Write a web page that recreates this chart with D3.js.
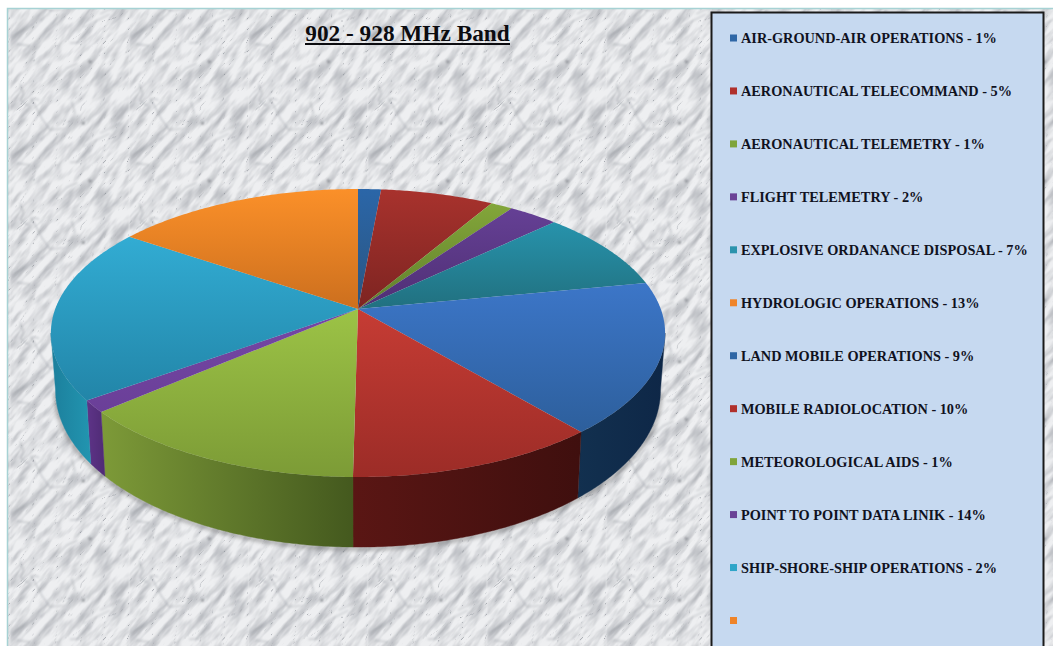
<!DOCTYPE html>
<html><head><meta charset="utf-8">
<style>html,body{margin:0;padding:0;background:#fff;overflow:hidden}svg{display:block}</style>
<script src="https://cdn.jsdelivr.net/npm/d3@7"></script>
</head><body><div id="chart"></div>
<script>
// Slice shares (percent of the circle)
const sliceNames = ["Air-ground-air","Aeronautical telecommand","Aeronautical telemetry","Flight telemetry","Explosive ordnance disposal","Land mobile","Mobile radiolocation","Meteorological aids","Point to point","Ship-shore-ship","Hydrologic"];
const sliceValues = [1.42,7.0,1.36,3.06,9.08,16.97,11.33,13.42,1.33,19.56,15.47];
const sliceTop    = ["#2b66a8","#a8322d","#83a63a","#654095","#2793ac","#3c76c8","#c63c34","#9cc346","#7547a5","#32acd3","#fb9029"];
const sliceBottom = ["#2a5580","#7d2421","#607f2c","#4f2f74","#21707f","#2d5f9c","#9c2c27","#7c9b36","#6a3f98","#2285a8","#cc6f1e"];
const wallLeft    = ["#1b3f66","#5a1614","#5f7d2a","#4f2b75","#1b84a0","#12304f","#5a1614","#7d9a38","#5e3488","#1c7f9c","#b5651c"];
const wallRight   = ["#1b3f66","#5a1614","#5f7d2a","#4f2b75","#1b84a0","#0e2747","#3f0f0e","#44591e","#4f2b75","#2295b0","#b5651c"];
// Legend
const legendLabels = ["AIR-GROUND-AIR OPERATIONS - 1%","AERONAUTICAL TELECOMMAND - 5%","AERONAUTICAL TELEMETRY - 1%","FLIGHT TELEMETRY - 2%","EXPLOSIVE ORDANANCE DISPOSAL - 7%","HYDROLOGIC OPERATIONS - 13%","LAND MOBILE OPERATIONS - 9%","MOBILE RADIOLOCATION - 10%","METEOROLOGICAL AIDS - 1%","POINT TO POINT DATA LINIK - 14%","SHIP-SHORE-SHIP OPERATIONS - 2%",""];
const legendColors = ["#2f67a6","#b0302c","#7fa43a","#6a4296","#2b93ad","#ef8429","#2f67a6","#b0302c","#7fa43a","#6a4296","#2fa5c8","#ef8429"];
const titleText = "902 - 928 MHz Band";
// Marble texture veins, one repeat tile (decoration only)
const veinsDark = [
 [[150,390],[125,355],[105,315],[92,295]],[[150,390],[200,385],[225,340],[215,305]],
 [[60,300],[85,318],[100,295],[118,300]],[[60,250],[70,280],[62,300]],
 [[30,470],[65,450],[100,430]],[[250,440],[290,420],[330,400]],[[300,400],[330,385],[360,368]],
 [[175,230],[200,205],[232,190]],[[50,133],[90,137]],[[210,130],[240,127]],[[160,380],[145,400],[120,420]]
];
const veinDots = [[270,185],[250,370]];

const W = 1053, H = 646;
const svg = d3.select("#chart").append("svg").attr("width",W).attr("height",H).attr("viewBox",`0 0 ${W} ${H}`);
const defs = svg.append("defs");

// ---- marble: noise tile sheared so its streaks rise to the right, plus a tile of darker cracks
const tw = 119.25;
const blur = defs.append("filter").attr("id","veinBlur").attr("x","-5%").attr("y","-5%").attr("width","110%").attr("height","110%");
blur.append("feGaussianBlur").attr("stdDeviation",0.8);
const noiseLayer = (id,type,fx,fy,oct,seed,matrix,sd)=>{
  const f = defs.append("filter").attr("id",id).attr("x",0).attr("y",0).attr("width","100%").attr("height","100%").attr("color-interpolation-filters","sRGB");
  f.append("feTurbulence").attr("type",type).attr("baseFrequency",(fx/tw)+" "+(fy/tw)).attr("numOctaves",oct).attr("seed",seed).attr("stitchTiles","stitch");
  f.append("feColorMatrix").attr("type","matrix").attr("values",matrix);
  f.append("feGaussianBlur").attr("stdDeviation",sd);
};
noiseLayer("cracks","turbulence",5,11,3,11,"0 0 0 0 0.50  0 0 0 0 0.52  0 0 0 0 0.55  -9 0 0 0 0.62",0.5);
noiseLayer("patches","fractalNoise",7,10,3,5,"0 0 0 0 0.72  0 0 0 0 0.73  0 0 0 0 0.75  2.2 0 0 0 -0.85",0.7);
const pat = defs.append("pattern").attr("id","marble").attr("patternUnits","userSpaceOnUse").attr("width",tw).attr("height",tw).attr("patternTransform","translate(10,40) skewY(-45)");
pat.append("rect").attr("width",tw).attr("height",tw).attr("fill","#eeeff1");
pat.append("rect").attr("width",tw).attr("height",tw).attr("filter","url(#patches)");
pat.append("rect").attr("width",tw).attr("height",tw).attr("filter","url(#cracks)");
const pat2 = defs.append("pattern").attr("id","marbleCracks").attr("patternUnits","userSpaceOnUse").attr("x",10).attr("y",40).attr("width",tw).attr("height",tw);
const tile = pat2.append("g").attr("filter","url(#veinBlur)");
const vLine = d3.line().x(d=>d[0]/3-10).y(d=>d[1]/3-40);
[-1,0,1].forEach(ox=>[-1,0,1].forEach(oy=>{
  const g = tile.append("g").attr("transform",`translate(${ox*tw},${oy*tw})`);
  g.selectAll("path").data(veinsDark).join("path").attr("d",vLine).attr("fill","none").attr("stroke","#8b8f96").attr("stroke-width",1).attr("opacity",.6);
  g.selectAll("circle").data(veinDots).join("circle").attr("cx",d=>d[0]/3-10).attr("cy",d=>d[1]/3-40).attr("r",1.3).attr("fill","#6c7077");
}));

// ---- page frame
svg.append("rect").attr("x",7.5).attr("y",8.5).attr("width",W).attr("height",H).attr("fill","url(#marble)").attr("stroke","#a6d2d4").attr("stroke-width",1.5);
svg.append("rect").attr("x",8.5).attr("y",9.5).attr("width",W).attr("height",H).attr("fill","url(#marbleCracks)");

// ---- projected pie
const cx = 358, cy = 309, R = 302.8, A = 140, K = 1/6;
const xScale = d3.scaleLinear().domain([0,1]).range([cx,cx+R]);
const yScale = d3.scaleLinear().domain([0,1]).range([cy,cy+A]);
// the lower rim of the disc: slightly narrower, and deeper toward the viewer
const xLow = d3.scaleLinear().domain([0,1]).range([cx,cx+R*0.985]);
const yLow = d3.scaleLinear().domain([0,1]).range([cy+55,cy+55+A*1.09]);
const plane = t => { const u = Math.sin(t), v = -Math.cos(t), w = 1 - K*v; return [u/w, v/w]; };
const rim = t => { const p = plane(t); return [xScale(p[0]), yScale(p[1])]; };
const rimLow = t => { const p = plane(t); return [xLow(p[0]), yLow(p[1])]; };
const samples = (a,b) => {
  const n = Math.max(2,Math.ceil((b-a)/0.01));
  return d3.range(n+1).map(i=>a+(b-a)*i/n);
};
const arcs = d3.pie().sort(null).value(d=>d)(sliceValues);
const path = d3.line();

arcs.forEach((d,i)=>{
  const t = defs.append("linearGradient").attr("id","top"+i).attr("x1",0).attr("y1",0).attr("x2",0).attr("y2",1);
  t.append("stop").attr("offset",0).attr("stop-color",sliceTop[i]);
  t.append("stop").attr("offset",1).attr("stop-color",sliceBottom[i]);
  const s = defs.append("linearGradient").attr("id","wall"+i).attr("x1",0).attr("y1",0).attr("x2",1).attr("y2",0);
  s.append("stop").attr("offset",0).attr("stop-color",wallLeft[i]);
  s.append("stop").attr("offset",1).attr("stop-color",wallRight[i]);
});
const shadow = defs.append("filter").attr("id","soft").attr("x","-5%").attr("y","-5%").attr("width","110%").attr("height","112%");
shadow.append("feGaussianBlur").attr("stdDeviation",2);

const lo = Math.acos(-K), hi = 2*Math.PI-lo;
// shadow under the near rim
svg.append("path").attr("d",path(samples(lo,hi).map(rimLow))).attr("fill","none").attr("stroke","#4a4a4a").attr("stroke-width",3).attr("opacity",.55).attr("transform","translate(0,1.5)").attr("filter","url(#soft)");

const pie = svg.append("g");
// walls: only the near side of the rim can be seen
pie.selectAll("path.wall").data(arcs.filter(d=>d.endAngle>lo && d.startAngle<hi)).join("path").attr("class","wall")
  .attr("fill",d=>`url(#wall${d.index})`)
  .attr("stroke",d=>`url(#wall${d.index})`).attr("stroke-width",0.4)
  .attr("d",d=>{
    const ts = samples(Math.max(d.startAngle,lo),Math.min(d.endAngle,hi));
    return path(ts.map(rim).concat(ts.slice().reverse().map(rimLow)))+"Z";
  });
// top faces
pie.selectAll("path.top").data(arcs).join("path").attr("class","top")
  .attr("fill",d=>`url(#top${d.index})`)
  .attr("d",d=>path([[xScale(0),yScale(0)]].concat(samples(d.startAngle,d.endAngle).map(rim)))+"Z");

// ---- title
svg.append("text").attr("x",407.5).attr("y",40.5).attr("text-anchor","middle")
  .attr("font-family","'Liberation Serif',serif").attr("font-weight",700).attr("font-size",23.3).attr("fill","#0c0c10").text(titleText);
svg.append("line").attr("x1",305).attr("x2",510).attr("y1",44).attr("y2",44).attr("stroke","#0c0c10").attr("stroke-width",2);

// ---- legend
svg.append("rect").attr("x",711.5).attr("y",12.5).attr("width",332).attr("height",640).attr("fill","#c6d9f0").attr("stroke","#1a1a1a").attr("stroke-width",2);
const rowY = d3.scalePoint().domain(d3.range(legendLabels.length)).range([38,620.5]);
const rows = svg.append("g").selectAll("g").data(legendLabels).join("g").attr("transform",(d,i)=>`translate(730,${rowY(i)})`);
rows.append("rect").attr("x",0).attr("y",-3.5).attr("width",7).attr("height",7).attr("fill",(d,i)=>legendColors[i]);
rows.append("text").attr("x",11).attr("y",5).attr("font-family","'Liberation Serif',serif").attr("font-weight",700).attr("font-size",14.3).attr("fill","#10121e").text(d=>d);
</script></body></html>
